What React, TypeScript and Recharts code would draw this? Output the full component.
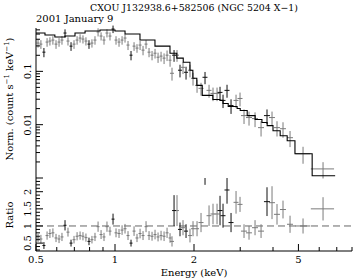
import { ComposedChart, Line, Scatter, ErrorBar, XAxis, YAxis, ReferenceLine } from 'recharts';

// energy bins (keV) and half widths
const energy = [0.509, 0.522, 0.536, 0.551, 0.565, 0.58, 0.596, 0.612, 0.628, 0.645, 0.662, 0.68, 0.698, 0.717, 0.736, 0.755, 0.775, 0.796, 0.817, 0.839, 0.862, 0.885, 0.908, 0.932, 0.957, 0.983, 1.009, 1.036, 1.064, 1.092, 1.121, 1.151, 1.182, 1.213, 1.246, 1.279, 1.313, 1.348, 1.384, 1.421, 1.459, 1.498, 1.538, 1.579, 1.621, 1.649, 1.679, 1.723, 1.769, 1.816, 1.865, 1.931, 1.983, 2.054, 2.127, 2.203, 2.282, 2.363, 2.448, 2.513, 2.58, 2.672, 2.768, 2.892, 2.995, 3.102, 3.241, 3.417, 3.602, 3.795, 3.966, 4.143, 4.367, 4.645, 5.206, 6.205];
const binHalf = [0.0067, 0.0069, 0.0071, 0.0073, 0.0074, 0.0076, 0.0078, 0.0081, 0.0083, 0.0085, 0.0087, 0.009, 0.0092, 0.0094, 0.0097, 0.0099, 0.0102, 0.0105, 0.0108, 0.011, 0.0113, 0.0116, 0.012, 0.0123, 0.0126, 0.0129, 0.0133, 0.0136, 0.014, 0.0144, 0.0148, 0.0151, 0.0156, 0.016, 0.0164, 0.0168, 0.0173, 0.0177, 0.0182, 0.0187, 0.0192, 0.0197, 0.0202, 0.0208, 0.0213, 0.029, 0.029, 0.03, 0.031, 0.032, 0.033, 0.034, 0.035, 0.036, 0.047, 0.048, 0.05, 0.052, 0.054, 0.055, 0.057, 0.059, 0.061, 0.063, 0.066, 0.082, 0.085, 0.09, 0.095, 0.1, 0.104, 0.109, 0.115, 0.122, 0.34, 0.63];

// counts s^-1 keV^-1
const flux = [0.339, 0.324, 0.229, 0.354, 0.37, 0.386, 0.324, 0.354, 0.386, 0.523, 0.37, 0.297, 0.324, 0.386, 0.421, 0.403, 0.37, 0.324, 0.339, 0.386, 0.546, 0.459, 0.386, 0.523, 0.459, 0.622, 0.386, 0.354, 0.386, 0.421, 0.311, 0.201, 0.297, 0.273, 0.311, 0.25, 0.324, 0.229, 0.201, 0.219, 0.184, 0.193, 0.177, 0.201, 0.162, 0.092, 0.201, 0.201, 0.105, 0.119, 0.096, 0.105, 0.074, 0.0546, 0.048, 0.0774, 0.044, 0.0386, 0.0386, 0.0403, 0.0285, 0.044, 0.0229, 0.0285, 0.031, 0.0148, 0.0136, 0.013, 0.0088, 0.0148, 0.0136, 0.0088, 0.0084, 0.0057, 0.00285, 0.00148];
const fluxErr = [0.06, 0.06, 0.045, 0.065, 0.065, 0.07, 0.06, 0.065, 0.07, 0.09, 0.065, 0.055, 0.06, 0.07, 0.075, 0.07, 0.065, 0.06, 0.06, 0.07, 0.095, 0.08, 0.07, 0.09, 0.08, 0.1, 0.07, 0.065, 0.07, 0.075, 0.06, 0.04, 0.055, 0.05, 0.06, 0.05, 0.06, 0.045, 0.04, 0.045, 0.04, 0.04, 0.04, 0.045, 0.04, 0.025, 0.05, 0.05, 0.028, 0.03, 0.026, 0.028, 0.02, 0.015, 0.013, 0.02, 0.012, 0.011, 0.011, 0.011, 0.008, 0.012, 0.007, 0.008, 0.009, 0.0045, 0.004, 0.004, 0.0028, 0.0045, 0.004, 0.0028, 0.0027, 0.0019, 0.001, 0.0005];

// data / model
const ratio = [0.65, 0.62, 0.43, 0.72, 0.78, 0.8, 0.65, 0.62, 0.68, 1.02, 0.82, 0.5, 0.6, 0.7, 0.72, 0.7, 0.66, 0.55, 0.6, 0.68, 0.98, 0.75, 0.68, 0.98, 0.85, 1.2, 0.8, 0.78, 0.88, 0.92, 0.72, 0.5, 0.85, 0.65, 0.78, 0.72, 0.98, 0.72, 0.7, 0.75, 0.68, 0.72, 0.7, 0.8, 0.65, 0.55, 1.45, 1.45, 0.9, 0.95, 0.85, 0.72, 0.92, 0.92, 1.1, 2.5, 1.3, 1.35, 1.35, 1.45, 1.3, 2.05, 1.1, 1.69, 1.63, 0.85, 0.8, 0.95, 0.85, 1.71, 1.68, 1.34, 1.48, 1.05, 1.0, 1.5];
const ratioErr = [0.12, 0.12, 0.1, 0.12, 0.13, 0.13, 0.12, 0.12, 0.12, 0.15, 0.13, 0.1, 0.11, 0.12, 0.12, 0.12, 0.12, 0.11, 0.11, 0.12, 0.15, 0.13, 0.12, 0.15, 0.13, 0.16, 0.13, 0.13, 0.14, 0.14, 0.13, 0.1, 0.14, 0.12, 0.14, 0.13, 0.16, 0.13, 0.13, 0.14, 0.13, 0.14, 0.14, 0.15, 0.14, 0.15, 0.45, 0.45, 0.2, 0.22, 0.2, 0.2, 0.22, 0.22, 0.28, 0.3, 0.3, 0.3, 0.3, 0.43, 0.35, 0.4, 0.28, 0.33, 0.22, 0.2, 0.2, 0.22, 0.2, 0.42, 0.48, 0.3, 0.26, 0.25, 0.22, 0.34];

// bins drawn darker
const darkBins = [2, 9, 11, 17, 25, 31, 46, 48, 50, 55, 59, 60, 61, 62, 69];

// folded model, step edges
const modelE = [0.5, 0.541, 0.59, 0.645, 0.704, 0.769, 0.877, 1.0, 1.092, 1.245, 1.42, 1.62, 1.72, 1.82, 1.93, 1.98, 2.05, 2.15, 2.36, 2.51, 2.58, 2.7, 2.92, 3.0, 3.19, 3.42, 3.63, 3.8, 4.0, 4.26, 4.53, 4.85, 5.64, 6.9];
const modelFlux = [0.523, 0.48, 0.44, 0.459, 0.523, 0.571, 0.596, 0.571, 0.501, 0.386, 0.297, 0.219, 0.177, 0.148, 0.105, 0.074, 0.0546, 0.0354, 0.0297, 0.0285, 0.025, 0.0219, 0.0201, 0.0184, 0.0148, 0.0125, 0.011, 0.0096, 0.0077, 0.0062, 0.005, 0.00285, 0.0011, 0.0011];

const xTicks = [0.5, 0.6, 0.7, 0.8, 0.9, 1, 2, 3, 4, 5, 6, 7, 8];
const xMajor = [0.5, 1, 2, 5];
const fluxTicks = [0.001, 0.002, 0.003, 0.004, 0.005, 0.006, 0.007, 0.008, 0.009, 0.01, 0.02, 0.03, 0.04, 0.05, 0.06, 0.07, 0.08, 0.09, 0.1, 0.2, 0.3, 0.4, 0.5, 0.6];
const fluxMajor = [0.001, 0.01, 0.1];
const fluxLabels = [0.01, 0.1];
const ratioTicks = [0.3, 0.4, 0.5, 0.6, 0.7, 0.8, 0.9, 1, 1.1, 1.2, 1.3, 1.4, 1.5, 1.6, 1.7, 1.8, 1.9, 2, 2.1, 2.2, 2.3];
const ratioMajor = [0.5, 1, 1.5, 2];

const FONT = '"DejaVu Serif", serif';
const GRAY = '#7a7a7a';
const DARK = '#111';

const specGray = energy.map((e, i) => ({ e, y: flux[i], yErr: fluxErr[i], eErr: binHalf[i] })).filter((_, i) => !darkBins.includes(i));
const specDark = energy.map((e, i) => ({ e, y: flux[i], yErr: fluxErr[i], eErr: binHalf[i] })).filter((_, i) => darkBins.includes(i));
const ratGray = energy.map((e, i) => ({ e, y: ratio[i], yErr: ratioErr[i], eErr: binHalf[i] })).filter((_, i) => !darkBins.includes(i));
const ratDark = energy.map((e, i) => ({ e, y: ratio[i], yErr: ratioErr[i], eErr: binHalf[i] })).filter((_, i) => darkBins.includes(i));
const model = modelE.map((e, i) => ({ e, y: modelFlux[i] }));

const XTick = (props: any) => {
  const { x, y, payload, up, label } = props;
  const major = xMajor.includes(payload.value);
  const len = major ? 7 : 4;
  return (
    <g>
      <line x1={x} x2={x} y1={y} y2={up ? y - len : y + len} stroke="#000" />
      {label && major && (
        <text x={x} y={y + 12} textAnchor="middle" fontSize={10} fontFamily={FONT} fill="#000">
          {payload.value}
        </text>
      )}
    </g>
  );
};

const YTick = (props: any) => {
  const { x, y, payload, right, majors, labels } = props;
  const major = majors.includes(payload.value);
  const len = major ? 7 : 4;
  return (
    <g>
      <line x1={x} x2={right ? x - len : x + len} y1={y} y2={y} stroke="#000" />
      {labels && labels.includes(payload.value) && (
        <text transform={`translate(${x - 5},${y}) rotate(-90)`} textAnchor="middle" fontSize={10} fontFamily={FONT} fill="#000">
          {payload.value}
        </text>
      )}
    </g>
  );
};

const noDot = () => <g />;

const SpectrumPanel = () => (
  <ComposedChart width={354} height={179} margin={{ top: 28, right: 2, bottom: 1, left: 0 }}>
    <XAxis xAxisId="b" type="number" dataKey="e" scale="log" domain={[0.5, 8]} allowDataOverflow ticks={xTicks} interval={0} height={0} tickSize={0} tickMargin={0} stroke="#000" tick={(p: any) => <XTick {...p} up />} />
    <XAxis xAxisId="t" orientation="top" type="number" dataKey="e" scale="log" domain={[0.5, 8]} allowDataOverflow ticks={xTicks} interval={0} height={0} tickSize={0} tickMargin={0} stroke="#000" tick={(p: any) => <XTick {...p} />} />
    <YAxis yAxisId="l" type="number" dataKey="y" scale="log" domain={[0.001, 0.65]} allowDataOverflow ticks={fluxTicks} interval={0} width={36} tickSize={0} tickMargin={0} stroke="#000" tick={(p: any) => <YTick {...p} majors={fluxMajor} labels={fluxLabels} />} />
    <YAxis yAxisId="r" orientation="right" type="number" dataKey="y" scale="log" domain={[0.001, 0.65]} allowDataOverflow ticks={fluxTicks} interval={0} width={0} tickSize={0} tickMargin={0} stroke="#000" tick={(p: any) => <YTick {...p} right majors={fluxMajor} />} />
    <Scatter xAxisId="b" yAxisId="l" data={specGray} dataKey="y" shape={noDot} isAnimationActive={false}>
      <ErrorBar dataKey="yErr" direction="y" width={0} stroke={GRAY} strokeWidth={1} isAnimationActive={false} />
      <ErrorBar dataKey="eErr" direction="x" width={0} stroke={GRAY} strokeWidth={1} isAnimationActive={false} />
    </Scatter>
    <Scatter xAxisId="b" yAxisId="l" data={specDark} dataKey="y" shape={noDot} isAnimationActive={false}>
      <ErrorBar dataKey="yErr" direction="y" width={0} stroke={DARK} strokeWidth={1} isAnimationActive={false} />
      <ErrorBar dataKey="eErr" direction="x" width={0} stroke={DARK} strokeWidth={1} isAnimationActive={false} />
    </Scatter>
    <Line xAxisId="b" yAxisId="l" data={model} dataKey="y" type="stepAfter" stroke="#000" strokeWidth={1.1} dot={false} isAnimationActive={false} />
  </ComposedChart>
);

const RatioPanel = () => (
  <ComposedChart width={354} height={280} margin={{ top: 178, right: 2, bottom: 0, left: 0 }}>
    <XAxis xAxisId="b" type="number" dataKey="e" scale="log" domain={[0.5, 8]} allowDataOverflow ticks={xTicks} interval={0} height={29} tickSize={0} tickMargin={0} stroke="#000" tick={(p: any) => <XTick {...p} up label />} />
    <XAxis xAxisId="t" orientation="top" type="number" dataKey="e" scale="log" domain={[0.5, 8]} allowDataOverflow ticks={xTicks} interval={0} height={0} tickSize={0} tickMargin={0} stroke="#000" tick={(p: any) => <XTick {...p} />} />
    <YAxis yAxisId="l" type="number" dataKey="y" domain={[0.27, 2.4]} allowDataOverflow ticks={ratioTicks} interval={0} width={36} tickSize={0} tickMargin={0} stroke="#000" tick={(p: any) => <YTick {...p} majors={ratioMajor} labels={ratioMajor} />} />
    <YAxis yAxisId="r" orientation="right" type="number" dataKey="y" domain={[0.27, 2.4]} allowDataOverflow ticks={ratioTicks} interval={0} width={0} tickSize={0} tickMargin={0} stroke="#000" tick={(p: any) => <YTick {...p} right majors={ratioMajor} />} />
    <ReferenceLine xAxisId="b" yAxisId="l" y={1} stroke="#666" strokeDasharray="7 4" />
    <Scatter xAxisId="b" yAxisId="l" data={ratGray} dataKey="y" shape={noDot} isAnimationActive={false}>
      <ErrorBar dataKey="yErr" direction="y" width={0} stroke={GRAY} strokeWidth={1} isAnimationActive={false} />
      <ErrorBar dataKey="eErr" direction="x" width={0} stroke={GRAY} strokeWidth={1} isAnimationActive={false} />
    </Scatter>
    <Scatter xAxisId="b" yAxisId="l" data={ratDark} dataKey="y" shape={noDot} isAnimationActive={false}>
      <ErrorBar dataKey="yErr" direction="y" width={0} stroke={DARK} strokeWidth={1} isAnimationActive={false} />
      <ErrorBar dataKey="eErr" direction="x" width={0} stroke={DARK} strokeWidth={1} isAnimationActive={false} />
    </Scatter>
  </ComposedChart>
);

export default function App() {
  return (
    <div style={{ position: 'absolute', left: 0, top: 0, width: 354, height: 280, background: '#fff', overflow: 'hidden' }}>
      {/* lower panel clipped at the shared axis */}
      <div style={{ position: 'absolute', left: 0, top: 178, width: 354, height: 102, overflow: 'hidden' }}>
        <div style={{ position: 'absolute', left: 0, top: -178 }}>
          <RatioPanel />
        </div>
      </div>
      <div style={{ position: 'absolute', left: 0, top: 0 }}>
        <SpectrumPanel />
      </div>
      <svg width={354} height={280} style={{ position: 'absolute', left: 0, top: 0, pointerEvents: 'none' }} fontFamily={FONT} fontSize={10}>
        <text x={194} y={11} textAnchor="middle" fontSize={9.4}>CXOU J132938.6+582506 (NGC 5204 X−1)</text>
        <text x={36} y={22}>2001 January 9</text>
        <text transform="translate(13,99) rotate(-90)" textAnchor="middle">
          Norm. (count s<tspan dy={-4} fontSize={7}>−1</tspan>
          <tspan dy={4}> keV</tspan>
          <tspan dy={-4} fontSize={7}>−1</tspan>
          <tspan dy={4}>)</tspan>
        </text>
        <text transform="translate(13,215) rotate(-90)" textAnchor="middle">Ratio</text>
        <text x={194} y={276} textAnchor="middle">Energy (keV)</text>
      </svg>
    </div>
  );
}
